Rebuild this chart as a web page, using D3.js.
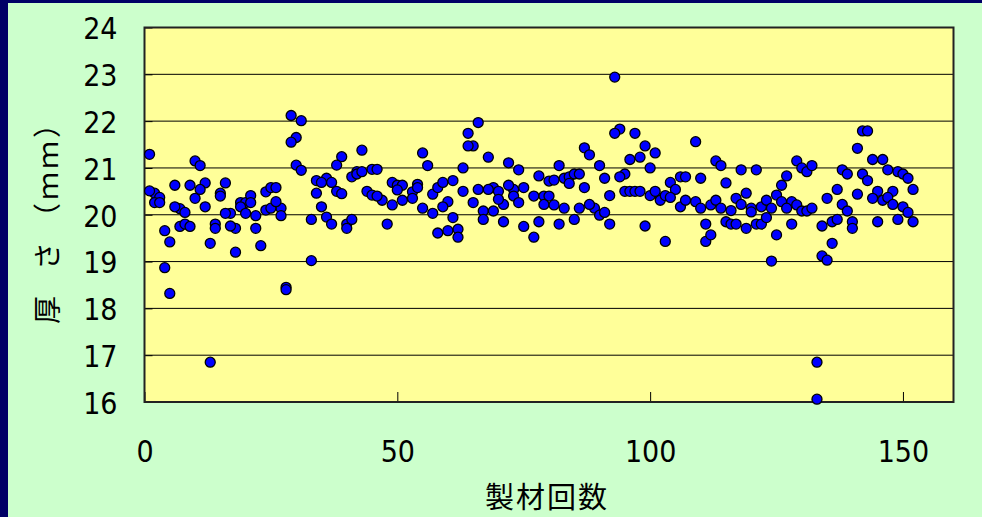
<!DOCTYPE html>
<html>
<head>
<meta charset="utf-8">
<script src="https://cdn.jsdelivr.net/npm/d3@7"></script>
<style>
  html, body { margin: 0; padding: 0; background: #ccffcc; overflow: hidden; }
  svg { display: block; }
</style>
</head>
<body>
<svg id="chart" width="982" height="517"></svg>
<script>
// Board thickness (mm) per sawing run; two measuring points per run, null = no reading.
const thicknessA = [
  21.29, 20.46, 20.37, 19.66, 19.42, 20.63, 20.13, 20.05, 20.63, 21.15,
  21.05, 20.68, 19.39, 19.80, 20.46, 20.68, 20.03, 19.71, 20.26, 20.26,
  20.41, 19.98, 19.34, 20.49, 20.58, 20.58, 20.14, 18.45, 22.12, 21.65,
  22.01, null,  19.90, 20.73, 20.17, 20.78, 20.69, 20.50, 21.24, 19.80,
  19.90, 20.92, 21.38, 20.50, 20.97, 20.97, 20.31, 19.80, 20.69, 20.63,
  20.63, null,  20.49, 20.65, 21.32, 21.05, 20.44, 20.58, 20.69, 20.28,
  20.73, 19.69, 21.00, 21.74, 21.47, 21.97, 20.08, 21.23, 20.58, 20.50,
  20.22, 21.11, 20.54, 20.96, 20.58, null,  20.40, 20.83, 20.40, 20.72,
  20.74, 21.05, 20.78, 20.81, 20.87, 20.87, 21.43, 21.28, 20.14, 21.05,
  20.78, 20.41, 22.94, 21.83, 20.87, 21.18, 21.74, 21.23, 21.47, 21.00,
  21.32, 20.35, 19.43, 20.69, 20.54, 20.81, 20.81, null,  21.56, 20.78,
  19.80, 20.21, 21.15, 21.05, 20.68, 20.09, 20.35, 20.96, 20.46, 20.14,
  20.96, 20.17, 20.31, 20.14, 20.42, 20.63, 20.83, 20.28, 21.15, 21.00,
  20.92, 21.05, 16.85, 19.76, 20.35, 19.85, 19.90, 20.96, 20.87, 19.85,
  21.42, 21.79, 21.79, 21.18, 20.50, 21.18, 20.96, 20.50, 20.92, 20.87,
  20.78, 20.54
];
const thicknessB = [
  20.51, 20.26, 20.26, 18.87, 18.32, 20.17, 19.75, 19.80, 19.75, 20.35,
  20.54, 20.17, 16.85, 19.71, 20.40, 20.03, 19.76, 19.20, 20.17, 20.03,
  20.26, 19.71, null,  20.10, 20.14, 20.28, 19.98, 18.40, 21.55, 21.06,
  20.95, null,  19.02, 20.46, 20.69, 19.95, 19.80, 21.06, 20.45, 19.71,
  20.81, 20.87, 20.92, null,  20.42, 20.40, null,  null,  20.21, 20.53,
  20.31, null,  20.35, 20.58, 20.14, null,  20.03, 19.61, 20.17, 19.66,
  19.94, 19.52, 20.50, 21.47, 20.26, 20.54, 19.90, 20.54, 20.08, 20.33,
  19.85, 20.63, 20.40, 20.26, 19.75, null,  19.52, 19.85, 20.22, 20.40,
  20.21, 19.80, 20.14, 20.67, 19.90, 20.14, 20.58, 20.22, null,  19.99,
  20.05, 19.80, 21.74, 20.81, 20.50, 20.50, 20.50, 20.50, 19.76, 20.41,
  20.50, 20.31, 20.41, 20.37, null,  20.17, 20.31, null,  20.28, 20.14,
  19.43, 19.57, 20.31, 20.14, 19.85, 19.80, 19.80, 20.22, 19.71, 20.06,
  19.80, 19.80, 19.94, 19.01, 19.57, 20.28, 20.14, 19.80, 20.21, 20.08,
  20.08, 20.14, 16.06, 19.12, 19.03, 19.39, 20.54, 20.22, 20.08, 19.71,
  20.44, 20.87, 20.73, 20.35, 19.85, 20.31, 20.37, 20.22, 19.90, 20.17,
  20.05, 19.85
];
const xTicks = [0, 50, 100, 150];
const yTicks = [16, 17, 18, 19, 20, 21, 22, 23, 24];
const xTitle = "製材回数";
const yTitle = "厚さ（ｍｍ）";

const svg = d3.select("#chart");
const W = 982, H = 517;
const numFont = "'Liberation Sans Narrow', 'DejaVu Sans Condensed', 'Noto Sans CJK JP', sans-serif";
const cjkFont = "'Noto Sans CJK JP', sans-serif";

const x = d3.scaleLinear().domain([0, 160]).range([144.5, 953.5]);
const y = d3.scaleLinear().domain([16, 24]).range([402, 27.5]);

// slide background and navy frame
svg.append("rect").attr("width", W).attr("height", H).attr("fill", "#ccffcc");
svg.append("rect").attr("x", 0).attr("y", 0).attr("width", 8).attr("height", H).attr("fill", "#000066");
svg.append("rect").attr("x", 0).attr("y", 0).attr("width", W).attr("height", 3).attr("fill", "#000066");

// plot area
svg.append("rect")
  .attr("x", x(0)).attr("y", y(24))
  .attr("width", x(160) - x(0)).attr("height", y(16) - y(24))
  .attr("fill", "#ffff99");

// horizontal gridlines
svg.append("g").selectAll("line")
  .data(yTicks.filter(d => d > 16 && d < 24))
  .join("line")
  .attr("x1", x(0)).attr("x2", x(160))
  .attr("y1", d => y(d)).attr("y2", d => y(d))
  .attr("stroke", "#000").attr("stroke-width", 1);

// axes
const yAxis = svg.append("g")
  .attr("transform", `translate(${x(0)},0)`)
  .call(d3.axisLeft(y).tickValues(yTicks).tickSize(-8).tickPadding(27).tickFormat(d3.format("d")));
const xAxis = svg.append("g")
  .attr("transform", `translate(0,${y(16)})`)
  .call(d3.axisBottom(x).tickValues(xTicks).tickSize(-10).tickPadding(39).tickFormat(d3.format("d")));

[yAxis, xAxis].forEach(g => {
  g.select(".domain").remove();
  g.selectAll(".tick line").attr("stroke", "#000").attr("stroke-width", 1);
  g.selectAll(".tick text")
    .attr("fill", "#000")
    .style("font-family", numFont)
    .style("font-size", "30px");
});
yAxis.selectAll(".tick text").attr("dy", "0.38em");

// plot area border
svg.append("rect")
  .attr("x", x(0)).attr("y", y(24))
  .attr("width", x(160) - x(0)).attr("height", y(16) - y(24))
  .attr("fill", "none").attr("stroke", "#222").attr("stroke-width", 2);

// measurement points
const points = [];
thicknessA.forEach((v, i) => { if (v != null) points.push({ run: i + 1, v }); });
thicknessB.forEach((v, i) => { if (v != null) points.push({ run: i + 1, v }); });

svg.append("g").selectAll("circle")
  .data(points)
  .join("circle")
  .attr("cx", d => x(d.run))
  .attr("cy", d => y(d.v))
  .attr("r", 5)
  .attr("fill", "#0000ff")
  .attr("stroke", "#000")
  .attr("stroke-width", 1.3);

// axis titles
svg.append("text")
  .attr("x", 547).attr("y", 495)
  .attr("text-anchor", "middle")
  .attr("dominant-baseline", "central")
  .style("font-family", cjkFont)
  .style("font-size", "29px")
  .style("letter-spacing", "2px")
  .attr("fill", "#000")
  .text(xTitle);

svg.append("text")
  .attr("transform", "translate(46,324) rotate(-90)")
  .attr("text-anchor", "start")
  .attr("dominant-baseline", "central")
  .attr("dx", "0 26 11 3 3 3")
  .style("font-family", cjkFont)
  .style("font-size", "28px")
  .attr("fill", "#000")
  .text(yTitle);
</script>
</body>
</html>
